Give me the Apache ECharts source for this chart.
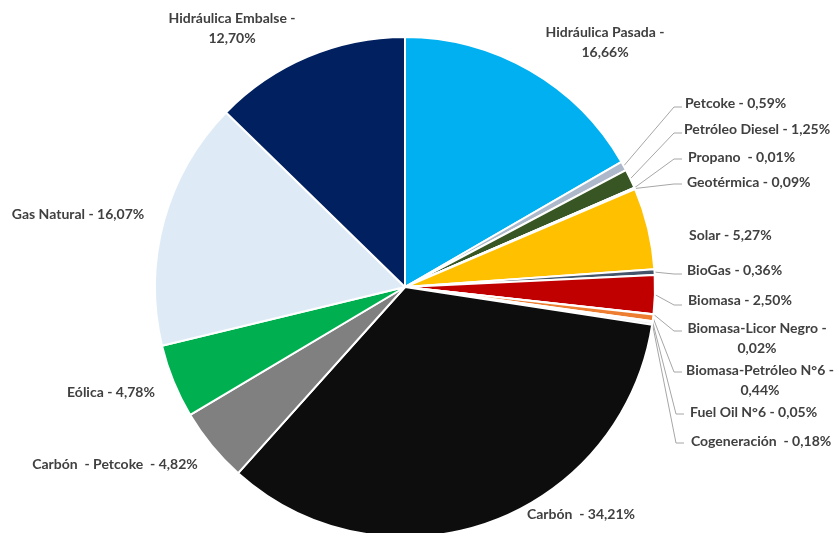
<!DOCTYPE html>
<html>
<head>
<meta charset="utf-8">
<script src="https://cdn.jsdelivr.net/npm/echarts@6/dist/echarts.min.js"></script>
<style>html,body{margin:0;padding:0;background:#fff}#c{width:834px;height:533px}</style>
</head>
<body>
<div id="c"></div>
<script>
const categories = ['Hidráulica Pasada','Petcoke','Petróleo Diesel','Propano','Geotérmica','Solar','BioGas','Biomasa','Biomasa-Licor Negro','Biomasa-Petróleo N°6','Fuel Oil N°6','Cogeneración','Carbón','Carbón - Petcoke','Eólica','Gas Natural','Hidráulica Embalse'];
const values = [16.66,0.59,1.25,0.01,0.09,5.27,0.36,2.50,0.02,0.44,0.05,0.18,34.21,4.82,4.78,16.07,12.70];
const labelTexts = ['Hidráulica Pasada -\n16,66%','Petcoke - 0,59%','Petróleo Diesel - 1,25%','Propano  - 0,01%','Geotérmica - 0,09%','Solar - 5,27%','BioGas - 0,36%','Biomasa - 2,50%','Biomasa-Licor Negro -\n0,02%','Biomasa-Petróleo N°6 -\n0,44%','Fuel Oil N°6 - 0,05%','Cogeneración  - 0,18%','Carbón  - 34,21%','Carbón  - Petcoke  - 4,82%','Eólica - 4,78%','Gas Natural - 16,07%','Hidráulica Embalse -\n12,70%'];
const colors = ['#00b0f0','#adb9ca','#375623','#a9d18e','#833c0b','#ffc000','#44546a','#c00000','#7f6000','#ed7d31','#d9b3e6','#f2f2f2','#0d0d0d','#808080','#00b050','#deebf7','#002060'];

// label placement (style): [x, y, align, showLine, lineEndX, lineEndY]
const labelPos = [
  [605, 42, 'center', false],
  [685, 103, 'left', true, 682, 107],
  [684, 129, 'left', true, 682, 133],
  [688, 157, 'left', true, 682, 159],
  [687, 182, 'left', true, 682, 184],
  [689, 235, 'left', false],
  [687, 270, 'left', true, 682, 274],
  [688, 300, 'left', true, 682, 305],
  [757, 338, 'center', true, 682, 331],
  [760, 380, 'center', true, 682, 372],
  [690, 412, 'left', true, 684, 414],
  [691, 441, 'left', true, 684, 443],
  [581, 514, 'center', false],
  [115, 464, 'center', false],
  [111, 392, 'center', false],
  [78, 214, 'center', false],
  [232, 28, 'center', false]
];

const chart = echarts.init(document.getElementById('c'), null, {renderer: 'canvas'});
const data = categories.map((n, i) => ({
  name: n,
  value: values[i],
  itemStyle: {color: colors[i]},
  label: {formatter: labelTexts[i]},
  labelLine: {show: labelPos[i][3]}
}));
chart.setOption({
  animation: false,
  series: [{
    type: 'pie',
    center: [405, 287],
    radius: 250,
    startAngle: 90,
    clockwise: true,
    avoidLabelOverlap: false,
    data: data,
    itemStyle: {borderColor: '#ffffff', borderWidth: 2},
    label: {
      show: true,
      position: 'outside',
      fontFamily: 'Lato, "Open Sans", sans-serif',
      fontWeight: 'bold',
      fontSize: 14,
      lineHeight: 20,
      color: '#404040',
      align: 'center'
    },
    labelLine: {
      show: true,
      length: 10,
      length2: 10,
      lineStyle: {color: '#a6a6a6', width: 1}
    },
    labelLayout: function (params) {
      const p = labelPos[params.dataIndex];
      const res = {x: p[0], y: p[1], align: p[2], verticalAlign: 'middle'};
      if (p[3] && params.labelLinePoints) {
        const s = params.labelLinePoints[0];
        res.labelLinePoints = [[s[0], s[1]], [p[4] - 8, p[5]], [p[4], p[5]]];
      }
      return res;
    }
  }]
});
</script>
</body>
</html>
